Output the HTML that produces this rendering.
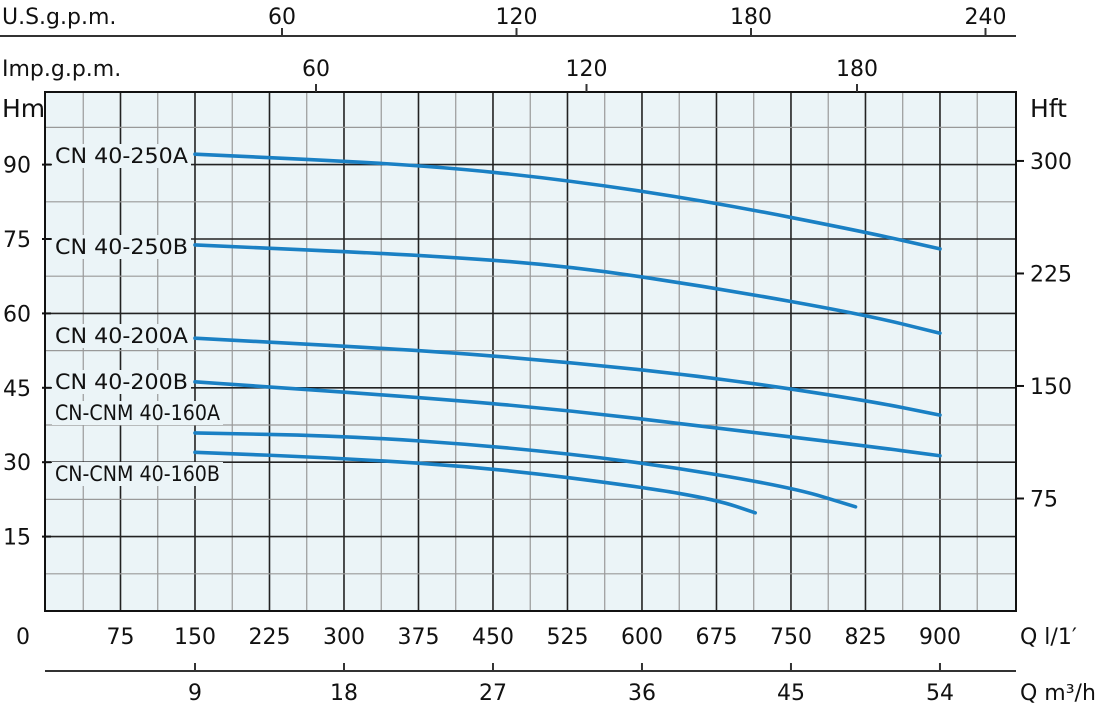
<!DOCTYPE html>
<html><head><meta charset="utf-8"><style>
body{margin:0;background:#fff;}
svg text{font-family:"DejaVu Sans","Liberation Sans",sans-serif;fill:#111;}
</style></head><body>
<svg id="chart" width="1100" height="704" viewBox="0 0 1100 704">
<g id="grid"></g>
<g id="curves"></g>
<g id="axes"></g>
</svg>
<script>
const qTicks=[0,75,150,225,300,375,450,525,600,675,750,825,900];
const hmTicks=[15,30,45,60,75,90];
const hftTicks=[75,150,225,300];
const usTicks=[60,120,180,240];
const impTicks=[60,120,180];
const m3Ticks=[9,18,27,36,45,54];
const seriesNames=["CN 40-250A","CN 40-250B","CN 40-200A","CN 40-200B","CN-CNM 40-160A","CN-CNM 40-160B"];
const q250A=[150,375,525,675,825,900], h250A=[92.1,90,86.9,82.3,76.4,73];
const q250B=[150,375,525,675,825,900], h250B=[73.8,71.8,69.6,65.1,59.7,56];
const q200A=[150,375,525,675,825,900], h200A=[55,52.6,50.2,47,42.5,39.5];
const q200B=[150,375,525,675,825,900], h200B=[46.2,43.1,40.5,36.9,33.3,31.3];
const q160A=[150,300,450,600,750,815], h160A=[35.9,35.3,33.3,30,25,21];
const q160B=[150,300,450,600,675,714], h160B=[32,30.8,28.8,25,22.4,19.8];
const seriesQ=[q250A,q250B,q200A,q200B,q160A,q160B];
const seriesH=[h250A,h250B,h200A,h200B,h160A,h160B];

const L=45,R=1016,T=92,B=611;
const xQ=q=>46+q*0.9933;
const yH=h=>611-h*4.96;
const yFt=f=>611-(f/3.2808)*4.96*1.0+(f/300)*3.5;
const xUS=g=>282+(g-60)*3.9083;
const xImp=g=>316+(g-60)*4.5083;
const xM3=m=>xQ(m*1000/60);
const NS='http://www.w3.org/2000/svg';
function mk(p,t,a,txt){const e=document.createElementNS(NS,t);for(const k in a)e.setAttribute(k,a[k]);if(txt!==undefined)e.textContent=txt;p.appendChild(e);return e;}
const grid=document.getElementById('grid'),curves=document.getElementById('curves'),axes=document.getElementById('axes');
let bg=mk(grid,'rect',{x:L,y:T,width:R-L,height:B-T,fill:'#ebf4f7'});


for(let q=37.5;xQ(q)<R-2;q+=37.5){
  const major=Math.abs(q%75)<0.01;
  const ln=mk(grid,'line',{x1:xQ(q),x2:xQ(q),y1:T,y2:B,stroke:major?'#222':'#999','stroke-width':major?1.6:1.2});
  
  
}
for(let h=7.5;yH(h)>T+2;h+=7.5){
  const major=Math.abs(h%15)<0.01;
  const ln=mk(grid,'line',{x1:L,x2:R,y1:yH(h),y2:yH(h),stroke:major?'#222':'#999','stroke-width':major?1.6:1.2});
  
  
}
const fr=mk(axes,'rect',{x:L,y:T,width:R-L,height:B-T,fill:'none',stroke:'#111','stroke-width':2});


const labelY=[163,254,343,389,420,481];
const labelW=[133,133,133,133,165,165];
seriesQ.forEach((qs,i)=>{
  const pts=qs.map((q,j)=>[xQ(q),yH(seriesH[i][j])]);
  let d='M'+pts[0][0]+','+pts[0][1];
  for(let j=1;j<pts.length;j++){const p0=pts[j-1],p1=pts[j];const mx=(p0[0]+p1[0])/2;d+=' Q'+p0[0]+','+p0[1]+' '+mx+','+(p0[1]+p1[1])/2;}
  d+=' L'+pts[pts.length-1][0]+','+pts[pts.length-1][1];
  const p=mk(curves,'path',{d:d,fill:'none',stroke:'#1a80c4','stroke-width':3.6,'stroke-linecap':'round'});
  
  
  const r=mk(curves,'rect',{x:52,y:labelY[i]-19,width:labelW[i]+6,height:24,fill:'#ebf4f7'});
  
  
  const t=mk(curves,'text',{x:55,y:labelY[i],'font-size':21,textLength:labelW[i],lengthAdjust:'spacingAndGlyphs'},seriesNames[i]);
  
  
});
hmTicks.forEach(h=>{
  const t=mk(axes,'text',{x:3,y:yH(h)+8,'font-size':22},h);
  
  
  mk(axes,'line',{x1:L-3,x2:L+6,y1:yH(h),y2:yH(h),stroke:'#111','stroke-width':2});
});
hftTicks.forEach(f=>{
  const y=yFt(f);
  mk(axes,'line',{x1:R,x2:R+8,y1:y,y2:y,stroke:'#111','stroke-width':2});
  const t=mk(axes,'text',{x:1030,y:y+8,'font-size':22},f);
  
  
});
let t;
t=mk(axes,'text',{x:2,y:117,'font-size':25},'Hm');
t=mk(axes,'text',{x:1030,y:117,'font-size':25},'Hft');
qTicks.forEach(q=>{
  const x=q===0?23:xQ(q);
  const t=mk(axes,'text',{x:x,y:644,'font-size':22,'text-anchor':'middle'},q);
  
  
});
t=mk(axes,'text',{x:1020,y:644,'font-size':22},"Q l/1′");
mk(axes,'line',{x1:45,x2:1016,y1:671,y2:671,stroke:'#333','stroke-width':2});
m3Ticks.forEach(m=>{
  mk(axes,'line',{x1:xM3(m),x2:xM3(m),y1:663,y2:671,stroke:'#333','stroke-width':2});
  const t=mk(axes,'text',{x:xM3(m),y:700,'font-size':22,'text-anchor':'middle'},m);
  
  
});
t=mk(axes,'text',{x:1020,y:700,'font-size':22},'Q m³/h');
mk(axes,'line',{x1:0,x2:1016,y1:36,y2:36,stroke:'#333','stroke-width':2});
usTicks.forEach(g=>{
  mk(axes,'line',{x1:xUS(g),x2:xUS(g),y1:28,y2:36,stroke:'#333','stroke-width':2});
  const t=mk(axes,'text',{x:xUS(g),y:24,'font-size':22,'text-anchor':'middle'},g);
  
  
});
t=mk(axes,'text',{x:2,y:24,'font-size':22},'U.S.g.p.m.');
impTicks.forEach(g=>{
  mk(axes,'line',{x1:xImp(g),x2:xImp(g),y1:84,y2:92,stroke:'#333','stroke-width':2});
  const t=mk(axes,'text',{x:xImp(g),y:76,'font-size':22,'text-anchor':'middle'},g);
  
  
});
t=mk(axes,'text',{x:2,y:76,'font-size':22},'Imp.g.p.m.');
</script>
</body></html>
